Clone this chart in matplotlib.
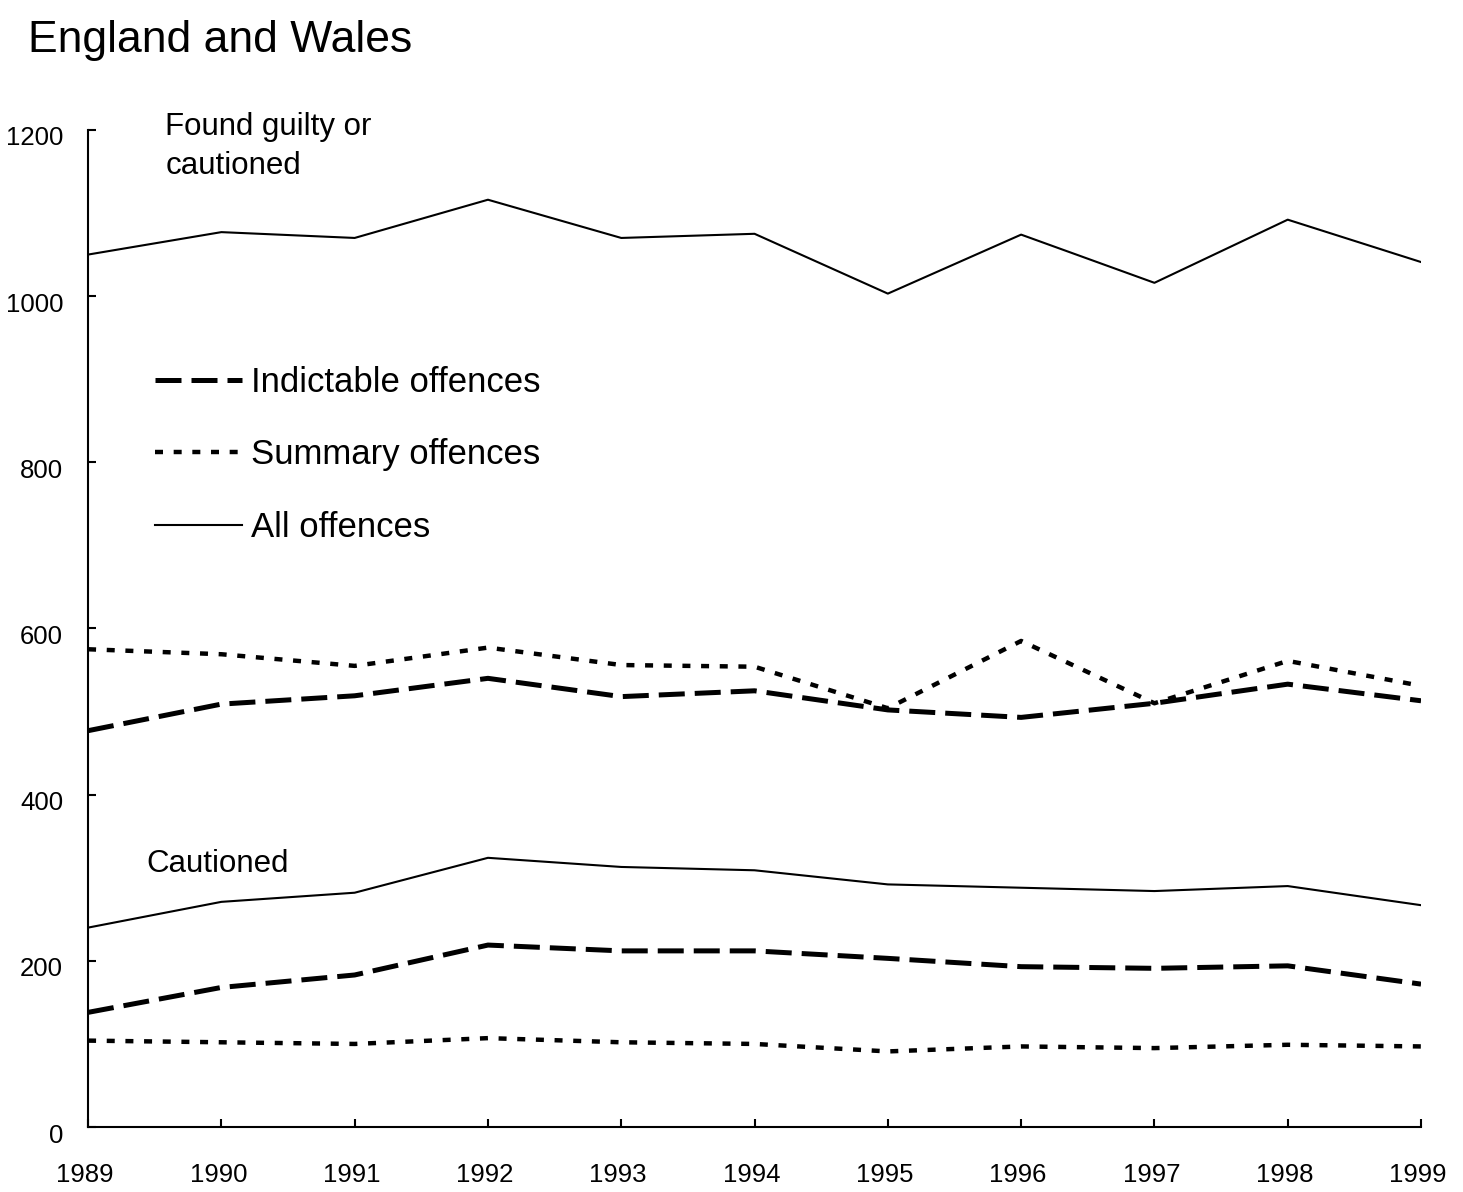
import matplotlib
matplotlib.use("Agg")
import matplotlib.pyplot as plt
import matplotlib.transforms as mtransforms
from matplotlib import font_manager

# font: a narrow helvetica look if we have it
names = {f.name for f in font_manager.fontManager.ttflist}
narrow = "Liberation Sans Narrow" in names
fam = "Liberation Sans Narrow" if narrow else "Liberation Sans"
plt.rcParams["font.family"] = [fam, "DejaVu Sans"]
k = 1.22 if narrow else 1.0   # narrow font can be bigger for same width

years = [1989, 1990, 1991, 1992, 1993, 1994, 1995, 1996, 1997, 1998, 1999]

# found guilty or cautioned (thousands)
fgc_all = [1050, 1077, 1070, 1116, 1070, 1075, 1003, 1074, 1016, 1092, 1041]
fgc_indictable = [477, 509, 519, 540, 518, 525, 502, 493, 510, 533, 513]
fgc_summary = [575, 569, 555, 577, 556, 554, 504, 585, 510, 561, 531]

# cautioned (thousands)
caut_all = [240, 271, 282, 324, 313, 309, 292, 288, 284, 290, 267]
caut_indictable = [138, 168, 183, 219, 212, 212, 203, 193, 191, 194, 172]
caut_summary = [104, 102, 100, 107, 102, 100, 91, 97, 95, 99, 97]

yticks = [0, 200, 400, 600, 800, 1000, 1200]

fig = plt.figure(figsize=(14.63, 11.92), dpi=100, facecolor="white")
ax = fig.add_axes([0.0602, 0.0545, 0.9111, 0.8365])

dash_style = dict(color="black", lw=3.6, dashes=(5.2, 2.0), solid_capstyle="butt")
dot_style = dict(color="black", lw=3.2, dashes=(1.8, 2.4))
solid_style = dict(color="black", lw=1.5)

ax.plot(years, fgc_indictable, label="Indictable offences", **dash_style)
ax.plot(years, fgc_summary, label="Summary offences", **dot_style)
ax.plot(years, fgc_all, label="All offences", **solid_style)

ax.plot(years, caut_indictable, **dash_style)
ax.plot(years, caut_summary, **dot_style)
ax.plot(years, caut_all, **solid_style)

ax.set_xlim(1989, 1999)
ax.set_ylim(0, 1200)
ax.set_xticks(years)
ax.set_yticks(yticks)
ax.spines["top"].set_visible(False)
ax.spines["right"].set_visible(False)
ax.spines["left"].set_linewidth(1.5)
ax.spines["bottom"].set_linewidth(1.5)
ax.tick_params(axis="both", direction="in", length=6, width=1.5, labelsize=18.5 * k)
ax.tick_params(axis="y", pad=18)
ax.tick_params(axis="x", pad=26)

# y labels sit a little below their ticks in the original
shift = mtransforms.ScaledTranslation(0, -6 / 100, fig.dpi_scale_trans)
for lab in ax.get_yticklabels():
    lab.set_transform(lab.get_transform() + shift)
shift_x = mtransforms.ScaledTranslation(-3 / 100, 0, fig.dpi_scale_trans)
for lab in ax.get_xticklabels():
    lab.set_transform(lab.get_transform() + shift_x)

fig.text(0.019, 0.966, "England and Wales", fontsize=32 * k, va="center", ha="left")
ax.text(1989.58, 1180, "Found guilty or\ncautioned", fontsize=22.5 * k, va="center",
        ha="left", linespacing=1.39)
ax.text(1989.44, 316, "Cautioned", fontsize=22.5 * k, va="center", ha="left")

leg = ax.legend(loc="upper left", bbox_to_anchor=(0.0505, 0.763), frameon=False,
                fontsize=25 * k, handlelength=2.5 / k, handletextpad=0.26 / k,
                labelspacing=1.13 / k, borderaxespad=0, borderpad=0)

fig.savefig("out.png", dpi=100, facecolor="white")
